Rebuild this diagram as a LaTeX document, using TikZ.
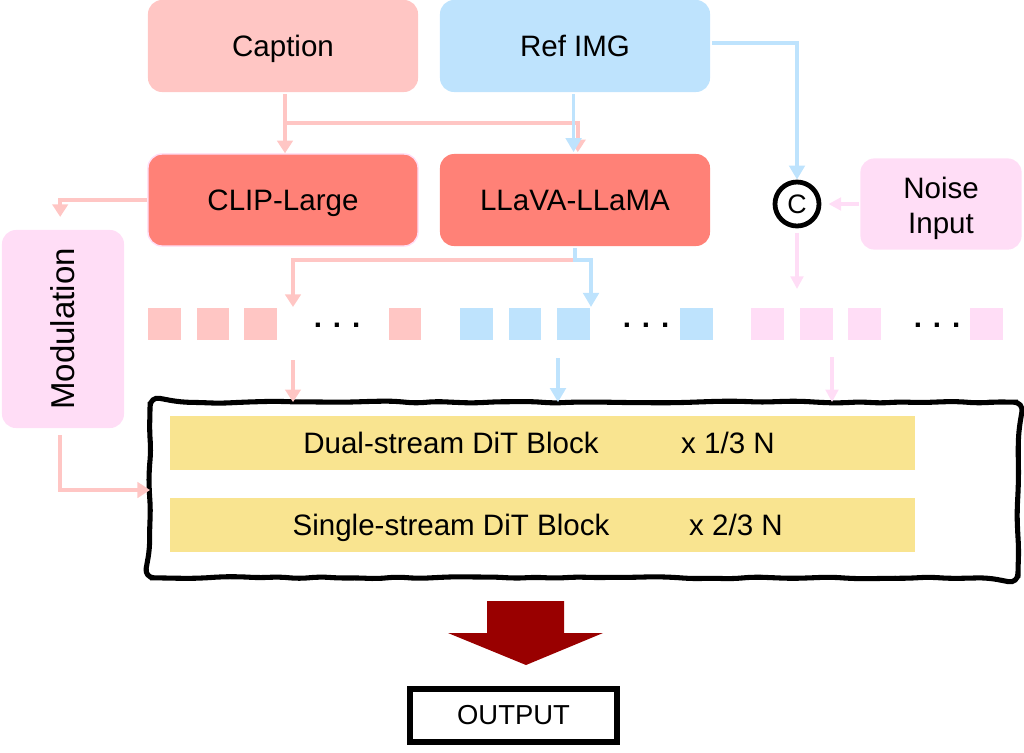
\documentclass[tikz,border=0pt]{standalone}
\usepackage{fontspec}
\setmainfont{Liberation Sans}
\usetikzlibrary{arrows.meta,decorations.pathmorphing}
\definecolor{capPink}{HTML}{FFC6C4}
\definecolor{refBlue}{HTML}{BEE3FD}
\definecolor{encRed}{HTML}{FF8177}
\definecolor{noisePink}{HTML}{FFDDF6}
\definecolor{blockYellow}{HTML}{F9E490}
\definecolor{outRed}{HTML}{990000}
\begin{document}
\begin{tikzpicture}[x=0.025cm, y=-0.025cm, line width=2.6pt,
    every node/.style={font=\fontsize{21}{25}\selectfont},
    inbox/.style={rounded corners=10pt, minimum width=6.75cm, minimum height=2.3cm,
      inner sep=0pt, text height=15pt, text depth=0pt},
    token/.style={minimum size=0.82cm, inner sep=0pt},
    dotrow/.style={anchor=base, font=\fontsize{21}{25}\selectfont\bfseries},
    ditbar/.style={fill=blockYellow, minimum width=18.63cm, minimum height=1.35cm, inner sep=0pt},
    sketch/.style={draw, line width=3.6pt, line cap=round, rounded corners=7pt,
      decorate, decoration={random steps, segment length=14pt, amplitude=0.9pt}},
    pinkarrow/.style={draw=capPink, -{Triangle[width=11pt,length=9pt]}},
    bluearrow/.style={draw=refBlue, -{Triangle[width=11pt,length=10pt]}},
    lpinkarrow/.style={draw=noisePink, line width=2.2pt, -{Triangle[width=9pt,length=9pt]}}]
  \useasboundingbox (0,0) rectangle (1024,752);
  \pgfmathsetseed{11}
  % Inputs and encoders
  \node[inbox, fill=capPink] (caption) at (283,46) {Caption};
  \node[inbox, fill=refBlue] (ref) at (575,46) {Ref IMG};
  \node[inbox, fill=encRed, draw=noisePink, line width=1pt] (clip) at (283,200) {CLIP-Large};
  \node[inbox, fill=encRed] (llava) at (575,200) {LLaVA-LLaMA};
  \node[inbox, fill=noisePink, minimum width=4.03cm, minimum height=2.28cm] (noise) at (941,204) {};
  \node[align=center] (noisetext) at (941,208) {Noise\\Input};
  \node[circle, draw, line width=3.4pt, minimum size=1.1cm, inner sep=0pt,
    font=\fontsize{19}{22}\selectfont] (cat) at (797,204) {C};
  \node[inbox, fill=noisePink, rotate=90, minimum width=4.95cm, minimum height=3.05cm,
    text height=17pt, font=\fontsize{23.5}{28}\selectfont] (mod) at (63,329) {Modulation};
  % Token rows
  \foreach \x [count=\i] in {164.5,213,260.5,405}
    \node[token, fill=capPink] (ptok\i) at (\x,324) {};
  \foreach \x [count=\i] in {476.5,525,573.5,696.5}
    \node[token, fill=refBlue] (btok\i) at (\x,324) {};
  \foreach \x [count=\i] in {767.5,816.5,864.5,986.5}
    \node[token, fill=noisePink] (ntok\i) at (\x,324) {};
  \node[dotrow] (pdots) at (337,327) {. . .};
  \node[dotrow] (bdots) at (646,327) {. . .};
  \node[dotrow] (ndots) at (937,327) {. . .};
  % DiT blocks in a hand-drawn frame
  \node[minimum width=21.6cm, minimum height=4.3cm, inner sep=0pt] (box) at (584,490) {};
  \draw[sketch] (box.north) -- (box.north east) -- (box.south east)
    -- (box.south west) -- (box.north west) -- (box.north);
  \node[ditbar] (dual) at (542.5,443) {};
  \node[ditbar] (single) at (542.5,525) {};
  \node[anchor=base] at (451,453) {Dual-stream DiT Block};
  \node[anchor=base] at (728,453) {x 1/3 N};
  \node[anchor=base] at (451,535) {Single-stream DiT Block};
  \node[anchor=base] at (736,535) {x 2/3 N};
  % Output
  \fill[outRed] (487,601) -- (564,601) -- (564,633) -- (603,633) -- (526,665)
    -- (448,633) -- (487,633) -- cycle;
  \node[draw, line width=4.2pt, minimum width=5.18cm, minimum height=1.33cm,
    font=\fontsize{19.5}{23}\selectfont] (out) at (513.5,715.5) {OUTPUT};
  % Connectors
  \coordinate (split) at (285,123);
  \coordinate (ptxt) at (293,307);
  \coordinate (pimg) at (591,307);
  \coordinate (pcat) at (797,289);
  \draw[pinkarrow] (caption.south -| split) -- (clip.north -| split);
  \draw[pinkarrow] (split) -| ([xshift=2pt]llava.north);
  \draw[bluearrow] ([xshift=-1pt]ref.south) -- ([xshift=-1pt]llava.north);
  \draw[bluearrow] ([yshift=2pt]ref.east) -| (cat.north);
  \draw[lpinkarrow, shorten >=5pt] (noise.west) -- (cat.east);
  \draw[pinkarrow, shorten >=8pt] (clip.west) -| ([xshift=-2pt]mod.east);
  \draw[pinkarrow] (llava.south) -- ++(0,12) -| (ptxt);
  \draw[bluearrow] (llava.south) -- ++(0,12) -| (pimg);
  \draw[lpinkarrow, shorten <=3pt] (cat.south) -- (pcat);
  \coordinate (pdown) at (293,360);
  \coordinate (bdown) at (558,358);
  \coordinate (ndown) at (832,357);
  \draw[pinkarrow] (pdown) -- (pdown |- box.north);
  \draw[bluearrow] (bdown) -- (bdown |- box.north);
  \draw[lpinkarrow] (ndown) -- (ndown |- box.north);
  \draw[pinkarrow, shorten <=4pt] ([xshift=-2pt]mod.west) |- (box.west);
\end{tikzpicture}
\end{document}
